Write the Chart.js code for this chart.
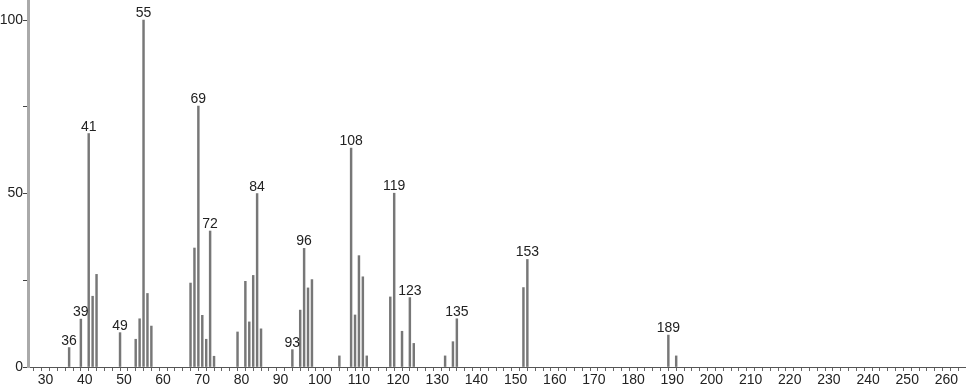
<!DOCTYPE html>
<html>
<head>
<meta charset="utf-8">
<script src="https://cdn.jsdelivr.net/npm/chart.js@4/dist/chart.umd.min.js"></script>
<style>
  html, body { margin: 0; padding: 0; background: #fff; }
  #wrap { width: 966px; height: 389px; position: relative; }
</style>
</head>
<body>
<div id="wrap"><canvas id="spec"></canvas></div>
<script>
// m/z values and relative intensities
var mz = [36, 39, 41, 42, 43, 49, 53, 54, 55, 56, 57, 67, 68, 69, 70, 71, 72, 73,
          79, 81, 82, 83, 84, 85, 93, 95, 96, 97, 98, 105, 108, 109, 110, 111, 112,
          118, 119, 121, 123, 124, 132, 134, 135, 152, 153, 189, 191];
var intensity = [5.6, 13.8, 67.3, 20.4, 26.7, 9.9, 8.0, 13.9, 100, 21.2, 11.8, 24.2, 34.3, 75.2, 14.9, 8.0, 39.2, 3.1,
                 10.1, 24.7, 13.0, 26.4, 50.0, 11.0, 5.0, 16.4, 34.2, 22.8, 25.2, 3.2, 63.1, 15.0, 32.1, 26.0, 3.2,
                 20.2, 50.1, 10.3, 20.0, 6.8, 3.2, 7.3, 13.9, 22.9, 31.0, 9.2, 3.2];
// peaks that carry a text label
var labelled = [36, 39, 41, 49, 55, 69, 72, 84, 93, 96, 108, 119, 123, 135, 153, 189];
var yLabels = [0, 50, 100];

var points = [];
for (var i = 0; i < mz.length; i++) {
    points.push({x: mz[i], y: intensity[i]});
}

var FONT = '"Liberation Sans", Arial, sans-serif';

// no extra room for half tick labels, the plot must fill the canvas
function noPad(scale) {
    scale.paddingTop = 0;
    scale.paddingBottom = 0;
    scale.paddingLeft = 0;
    scale.paddingRight = 0;
}

// writes the m/z number above the labelled peaks
var peakLabels = {
    id: 'peakLabels',
    afterDatasetsDraw: function(chart) {
        var ctx = chart.ctx;
        var xs = chart.scales.x, ys = chart.scales.y;
        ctx.save();
        ctx.font = '14px ' + FONT;
        ctx.fillStyle = '#222';
        ctx.textAlign = 'center';
        ctx.textBaseline = 'alphabetic';
        labelled.forEach(function(m) {
            var idx = mz.indexOf(m);
            if (idx < 0) return;
            var px = xs.getPixelForValue(m);
            var py = ys.getPixelForValue(intensity[idx]);
            ctx.fillText(String(m), px, py - 3);
        });
        ctx.restore();
    }
};

new Chart(document.getElementById('spec'), {
    type: 'bar',
    data: {
        datasets: [{
            data: points,
            backgroundColor: '#777',
            borderWidth: 0,
            barThickness: 1.8
        }]
    },
    plugins: [peakLabels],
    options: {
        responsive: true,
        maintainAspectRatio: false,
        animation: false,
        layout: { padding: 0 },
        plugins: {
            legend: { display: false },
            tooltip: { enabled: false }
        },
        scales: {
            x: {
                type: 'linear',
                offset: false,
                min: 25.5,
                max: 265,
                afterBuildTicks: function(scale) {
                    var t = [];
                    for (var v = 26; v <= 264; v += 2) t.push({value: v});
                    scale.ticks = t;
                },
                afterFit: function(scale) { scale.height = 22; noPad(scale); },
                border: { display: true, color: '#555', width: 1 },
                grid: {
                    drawOnChartArea: false,
                    tickLength: 4,
                    tickColor: '#666'
                },
                ticks: {
                    autoSkip: false,
                    maxRotation: 0,
                    padding: 1,
                    color: '#222',
                    font: { family: FONT, size: 14 },
                    callback: function(v) { return v % 10 === 0 ? String(v) : ''; }
                }
            },
            y: {
                min: 0,
                max: 105.8,
                afterBuildTicks: function(scale) {
                    scale.ticks = [0, 25, 50, 75, 100].map(function(v) { return {value: v}; });
                },
                afterFit: function(scale) { scale.width = 28; noPad(scale); },
                border: { display: true, color: '#aaa', width: 3 },
                grid: {
                    drawOnChartArea: false,
                    tickLength: 5,
                    tickColor: '#444'
                },
                ticks: {
                    padding: 0,
                    color: '#222',
                    font: { family: FONT, size: 14 },
                    callback: function(v) { return yLabels.indexOf(v) >= 0 ? String(v) : ''; }
                }
            }
        }
    }
});
</script>
</body>
</html>
